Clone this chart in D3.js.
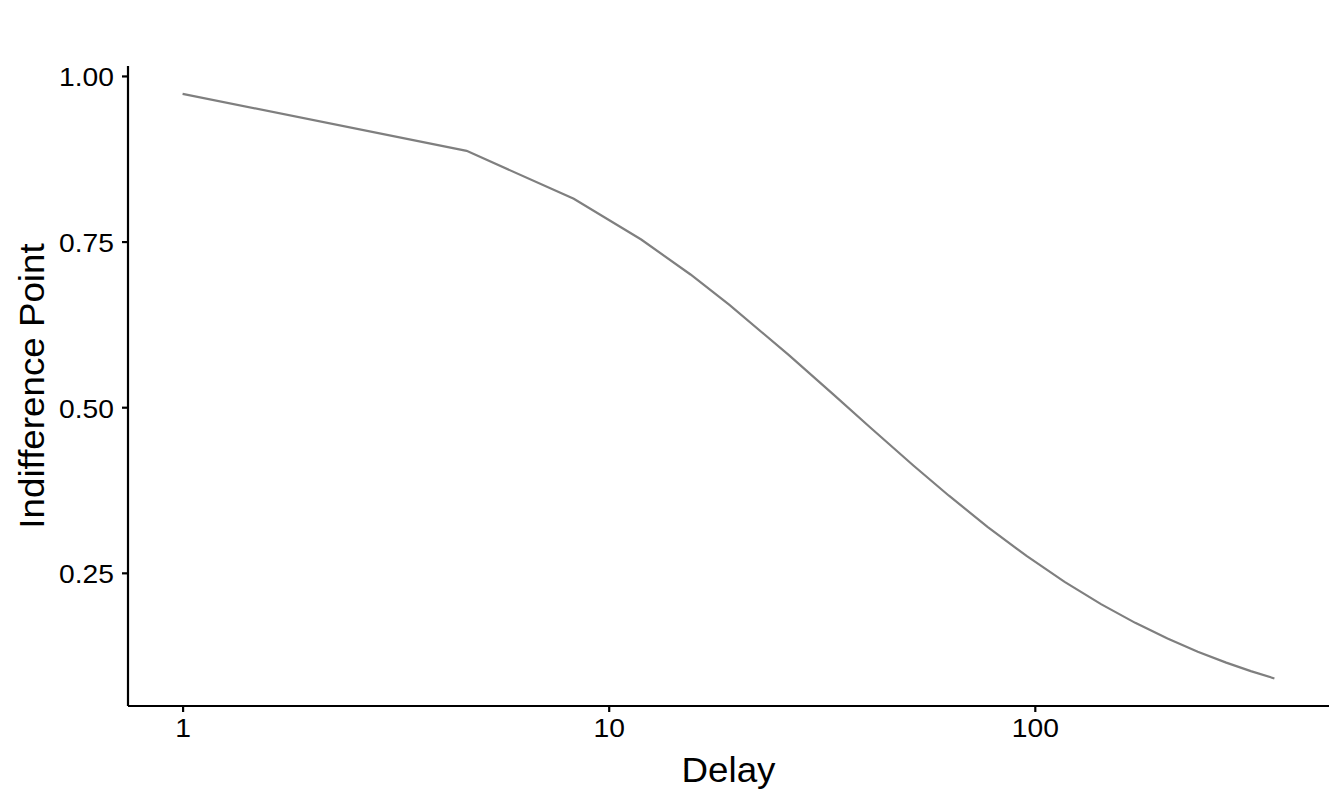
<!DOCTYPE html>
<html>
<head>
<meta charset="utf-8">
<script src="https://cdn.jsdelivr.net/npm/d3@7"></script>
<style>
  html, body { margin: 0; padding: 0; background: #fff; }
  svg { display: block; font-family: "Liberation Sans", Arial, Helvetica, sans-serif; }
</style>
</head>
<body>
<svg id="chart" width="1344" height="806"></svg>
<script>
// Data (delay in days, indifference point)
const delays = [1, 4.64, 8.28, 11.92, 15.56, 19.2, 26.48, 33.76, 41.04, 51.96, 62.88, 77.44,
                95.64, 117.48, 143.0, 172.08, 204.84, 241.24, 281.28, 321.32, 365];
const indifference = [0.973, 0.887, 0.8145, 0.7531, 0.7003, 0.6545, 0.5786, 0.5186, 0.4698, 0.4117,
                      0.3664, 0.3195, 0.2755, 0.2364, 0.2027, 0.1745, 0.1508, 0.1310, 0.1145, 0.1017, 0.0906];
const xTicks = [1, 10, 100];
const xTickLabels = ["1", "10", "100"];
const yTicks = [0.25, 0.50, 0.75, 1.00];
const yTickLabels = ["0.25", "0.50", "0.75", "1.00"];
const xTitle = "Delay";
const yTitle = "Indifference Point";

(function () {
  const data = delays.map((d, i) => ({ x: d, y: indifference[i] }));

  const svg = d3.select("#chart");
  const pL = 128, pR = 1329, pT = 66, pB = 706;
  const tickFont = 25, tickStretch = 1.13;
  const titleFont = 35, titleStretch = 1.05;

  // ggplot-like 5% expansion on log scale
  const lx = d3.extent(delays).map(Math.log10);
  const ex = (lx[1] - lx[0]) * 0.05;
  const x = d3.scaleLog().domain([Math.pow(10, lx[0] - ex), Math.pow(10, lx[1] + ex)]).range([pL, pR]);
  const y = d3.scaleLinear().domain([0.049, 1.015]).range([pB, pT]);

  // line
  svg.append("path")
    .datum(data)
    .attr("fill", "none")
    .attr("stroke", "#7f7f7f")
    .attr("stroke-width", 2.2)
    .attr("d", d3.line().x(d => x(d.x)).y(d => y(d.y)));

  // axes
  const xAxis = d3.axisBottom(x).tickValues(xTicks).tickFormat((d, i) => xTickLabels[i]).tickSize(6).tickPadding(7.5);
  const yAxis = d3.axisLeft(y).tickValues(yTicks).tickFormat((d, i) => yTickLabels[i]).tickSize(6).tickPadding(8);

  const gx = svg.append("g").attr("transform", `translate(0,${pB})`).call(xAxis);
  const gy = svg.append("g").attr("transform", `translate(${pL},0)`).call(yAxis);

  [gx, gy].forEach(g => {
    g.select(".domain").attr("stroke", "#000").attr("stroke-width", 2.2);
    g.selectAll(".tick line").attr("stroke", "#000").attr("stroke-width", 2.2);
    g.selectAll(".tick text").attr("fill", "#000").attr("font-size", tickFont)
      .attr("font-family", "'Liberation Sans', Arial, sans-serif");
  });
  gx.select(".domain").attr("d", `M${pL},0H${pR}`);
  gy.select(".domain").attr("d", `M0,${pB}V${pT}`);

  gx.selectAll(".tick text").attr("transform", `scale(${tickStretch},1)`);
  gy.selectAll(".tick text")
    .attr("x", -14 / tickStretch)
    .attr("dy", "0.4em")
    .attr("transform", `scale(${tickStretch},1)`);

  // titles
  svg.append("text")
    .attr("transform", `translate(${(pL + pR) / 2},782) scale(${titleStretch},1)`)
    .attr("text-anchor", "middle")
    .attr("font-size", titleFont)
    .attr("fill", "#000")
    .text(xTitle);

  svg.append("text")
    .attr("transform", `translate(43.5,${(pT + pB) / 2}) rotate(-90) scale(${titleStretch},1)`)
    .attr("text-anchor", "middle")
    .attr("font-size", titleFont)
    .attr("fill", "#000")
    .text(yTitle);
})();
</script>
</body>
</html>
